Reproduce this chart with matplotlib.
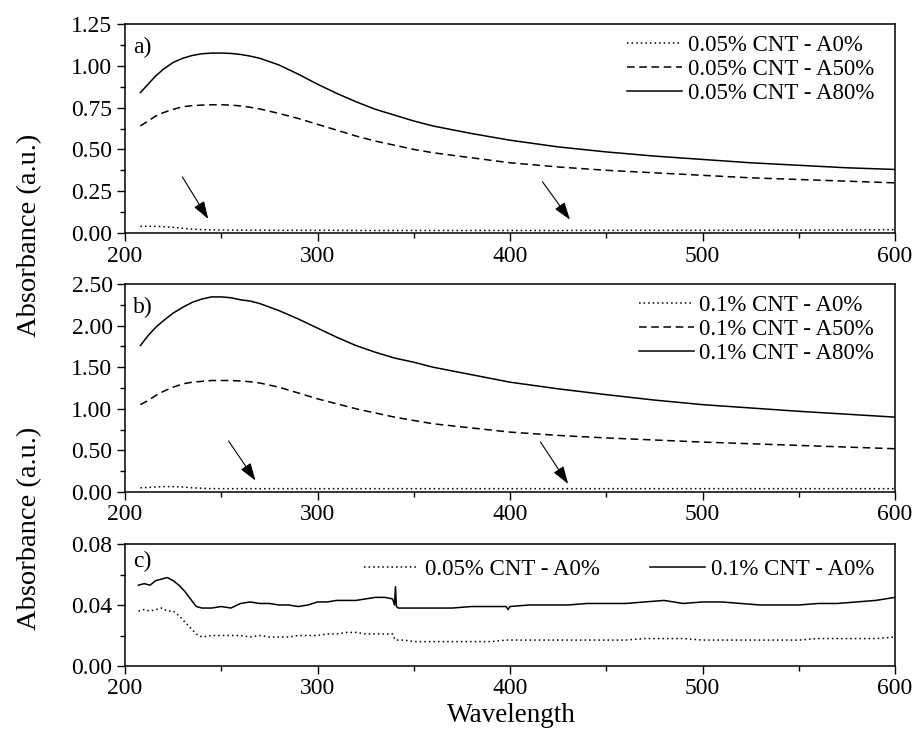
import matplotlib.pyplot as plt
from matplotlib.ticker import MultipleLocator, FormatStrFormatter

plt.rcParams['font.family'] = ['Liberation Serif', 'DejaVu Serif']

# Panel a) 0.05% CNT
wl_a = [208, 212, 216, 220, 225, 230, 235, 240, 245, 250, 255, 260, 265, 270, 280, 290, 300, 310, 320, 330, 340, 350, 360,
        380, 400, 425, 450, 475, 500, 525, 550, 575, 600]
a_a80 = [0.84, 0.89, 0.94, 0.98, 1.02, 1.045, 1.062, 1.072, 1.076, 1.076, 1.074, 1.068, 1.058, 1.045, 1.005, 0.95, 0.89, 0.835,
         0.785, 0.74, 0.705, 0.67, 0.64, 0.595, 0.555, 0.515, 0.485, 0.46, 0.44, 0.42, 0.405, 0.39, 0.38]
a_a50 = [0.64, 0.67, 0.70, 0.72, 0.74, 0.755, 0.762, 0.765, 0.767, 0.767, 0.765, 0.76, 0.752, 0.742, 0.715, 0.685, 0.65, 0.615,
         0.58, 0.55, 0.525, 0.50, 0.48, 0.45, 0.42, 0.395, 0.375, 0.36, 0.345, 0.33, 0.32, 0.31, 0.30]
a_a0 = [0.04, 0.04, 0.04, 0.038, 0.034, 0.028, 0.023, 0.02, 0.019, 0.018, 0.017, 0.017, 0.017, 0.017, 0.016, 0.016, 0.016, 0.016,
        0.015, 0.015, 0.015, 0.015, 0.015, 0.015, 0.015, 0.015, 0.016, 0.016, 0.016, 0.017, 0.017, 0.018, 0.02]

# Panel b) 0.1% CNT
wl_b = [208, 212, 216, 220, 225, 230, 235, 240, 245, 250, 255, 260, 265, 270, 280, 290, 300, 310, 320, 330, 340, 350, 360,
        380, 400, 425, 450, 475, 500, 525, 550, 575, 600]
b_a80 = [1.76, 1.88, 1.98, 2.06, 2.15, 2.22, 2.28, 2.32, 2.345, 2.345, 2.335, 2.31, 2.295, 2.265, 2.18, 2.08, 1.97, 1.86,
         1.76, 1.68, 1.61, 1.56, 1.50, 1.41, 1.32, 1.24, 1.17, 1.105, 1.05, 1.01, 0.97, 0.935, 0.90]
b_a50 = [1.05, 1.10, 1.16, 1.21, 1.26, 1.30, 1.32, 1.33, 1.34, 1.34, 1.34, 1.335, 1.325, 1.31, 1.26, 1.19, 1.12, 1.06,
         1.00, 0.95, 0.90, 0.86, 0.82, 0.77, 0.72, 0.68, 0.65, 0.625, 0.60, 0.58, 0.56, 0.54, 0.52]
b_a0 = [0.05, 0.055, 0.06, 0.065, 0.065, 0.06, 0.05, 0.045, 0.04, 0.04, 0.04, 0.04, 0.04, 0.04, 0.04, 0.04, 0.04, 0.04,
        0.04, 0.04, 0.04, 0.04, 0.04, 0.04, 0.04, 0.04, 0.04, 0.04, 0.04, 0.04, 0.04, 0.04, 0.04]

# Panel c) A0% comparison
wl_c = [207, 210, 213, 216, 219, 222, 225, 228, 231, 234, 237, 240, 245, 250, 255, 260, 265, 270, 275, 280, 285, 290, 295, 300,
        305, 310, 315, 320, 325, 330, 335, 339, 340, 340.5, 341, 342, 345, 350, 360, 370, 380, 390, 398, 399, 400, 410, 420,
        430, 440, 450, 460, 470, 480, 490, 500, 510, 520, 530, 540, 550, 560, 570, 580, 590, 600]
c_01 = [0.053, 0.054, 0.053, 0.056, 0.057, 0.058, 0.056, 0.053, 0.049, 0.044, 0.039, 0.038, 0.038, 0.039, 0.038, 0.041, 0.042, 0.041, 0.041, 0.040, 0.040, 0.039, 0.040, 0.042,
        0.042, 0.043, 0.043, 0.043, 0.044, 0.045, 0.045, 0.044, 0.040, 0.052, 0.039, 0.038, 0.038, 0.038, 0.038, 0.038, 0.039, 0.039, 0.039, 0.037, 0.039, 0.040, 0.040,
        0.040, 0.041, 0.041, 0.041, 0.042, 0.043, 0.041, 0.042, 0.042, 0.041, 0.040, 0.040, 0.040, 0.041, 0.041, 0.042, 0.043, 0.045]
c_005 = [0.036, 0.037, 0.036, 0.037, 0.038, 0.036, 0.036, 0.033, 0.029, 0.025, 0.021, 0.019, 0.020, 0.020, 0.020, 0.020, 0.019, 0.020, 0.019, 0.019, 0.019, 0.020, 0.020, 0.020,
         0.021, 0.021, 0.022, 0.022, 0.021, 0.021, 0.021, 0.021, 0.018, 0.018, 0.017, 0.017, 0.017, 0.016, 0.016, 0.016, 0.016, 0.016, 0.017, 0.017, 0.017, 0.017, 0.017,
         0.017, 0.017, 0.017, 0.017, 0.018, 0.018, 0.018, 0.017, 0.017, 0.017, 0.017, 0.017, 0.017, 0.018, 0.018, 0.018, 0.018, 0.019]

xticks = [200, 300, 400, 500, 600]

fig = plt.figure(figsize=(9.13, 7.37), dpi=100)
W, H = 913, 737
def box(l, t, r, b):
    return [l / W, 1 - b / H, (r - l) / W, (b - t) / H]

ax_a = fig.add_axes(box(125, 24, 895, 233))
ax_b = fig.add_axes(box(125, 284, 895, 492))
ax_c = fig.add_axes(box(125, 544, 895, 666))

dot = (0, (1, 2))
dash = (0, (5, 3))
lw = 1.1

ax_a.plot(wl_a, a_a0, color='black', lw=lw, ls=dot, label='0.05% CNT - A0%')
ax_a.plot(wl_a, a_a50, color='black', lw=lw, ls=dash, label='0.05% CNT - A50%')
ax_a.plot(wl_a, a_a80, color='black', lw=lw, ls='-', label='0.05% CNT - A80%')
ax_a.set_ylim(0, 1.25)
ax_a.yaxis.set_major_locator(MultipleLocator(0.25))
ax_a.yaxis.set_minor_locator(MultipleLocator(0.125))

ax_b.plot(wl_b, b_a0, color='black', lw=lw, ls=dot, label='0.1% CNT - A0%')
ax_b.plot(wl_b, b_a50, color='black', lw=lw, ls=dash, label='0.1% CNT - A50%')
ax_b.plot(wl_b, b_a80, color='black', lw=lw, ls='-', label='0.1% CNT - A80%')
ax_b.set_ylim(0, 2.5)
ax_b.yaxis.set_major_locator(MultipleLocator(0.5))
ax_b.yaxis.set_minor_locator(MultipleLocator(0.25))

ax_c.plot(wl_c, c_005, color='black', lw=lw, ls=dot, label='0.05% CNT - A0%')
ax_c.plot(wl_c, c_01, color='black', lw=lw, ls='-', label='0.1% CNT - A0%')
ax_c.set_ylim(0, 0.08)
ax_c.yaxis.set_major_locator(MultipleLocator(0.04))
ax_c.yaxis.set_minor_locator(MultipleLocator(0.02))

for ax, lab in [(ax_a, 'a)'), (ax_b, 'b)'), (ax_c, 'c)')]:
    ax.set_xlim(200, 600)
    ax.set_xticks(xticks)
    ax.xaxis.set_minor_locator(MultipleLocator(50))
    ax.yaxis.set_major_formatter(FormatStrFormatter('%.2f'))
    ax.tick_params(which='major', direction='out', length=6, width=1, labelsize=17, pad=3)
    ax.tick_params(which='minor', direction='out', length=3.5, width=1)
    for s in ax.spines.values():
        s.set_linewidth(1.1)
    ax.text(0.01, 0.94, lab, transform=ax.transAxes, fontsize=17, va='top', ha='left')

leg_kw = dict(frameon=False, fontsize=16.5, handlelength=2.4, handletextpad=0.25, borderaxespad=0.0)
ax_a.legend(loc='upper right', bbox_to_anchor=(0.985, 0.99), labelspacing=0.12, **leg_kw)
ax_b.legend(loc='upper right', bbox_to_anchor=(0.985, 0.99), labelspacing=0.12, **leg_kw)
ax_c.legend(loc='upper right', bbox_to_anchor=(0.985, 0.955), ncol=2, columnspacing=2.2, **leg_kw)

arrow = dict(arrowstyle='-|>,head_length=0.9,head_width=0.3', color='black', lw=0.8, mutation_scale=12)
ax_a.annotate('', xy=(244, 0.07), xytext=(229, 0.35), arrowprops=arrow)
ax_a.annotate('', xy=(432, 0.066), xytext=(416, 0.32), arrowprops=arrow)
ax_b.annotate('', xy=(268.6, 0.11), xytext=(253, 0.64), arrowprops=arrow)
ax_b.annotate('', xy=(431, 0.07), xytext=(415, 0.63), arrowprops=arrow)

fig.text(30 / W, 1 - 235 / H, 'Absorbance (a.u.)', rotation=90, fontsize=20.5, ha='center', va='center')
fig.text(30 / W, 1 - 528 / H, 'Absorbance (a.u.)', rotation=90, fontsize=20.5, ha='center', va='center')
fig.text(511 / W, 1 - 716 / H, 'Wavelength', fontsize=19.5, ha='center', va='center')

fig.savefig('out.png', dpi=100)
